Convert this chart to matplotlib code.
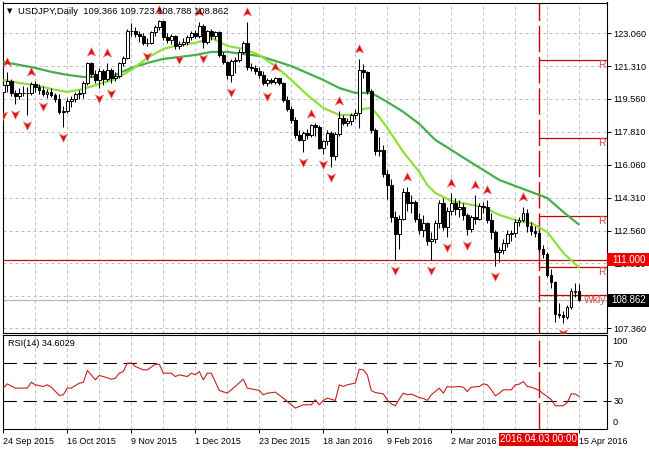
import matplotlib
matplotlib.use('Agg')
import matplotlib.pyplot as plt
import matplotlib.transforms as mtransforms
from matplotlib.patches import Rectangle
from matplotlib.path import Path

plt.rcParams['font.family'] = ['Liberation Sans', 'DejaVu Sans']
FS = 6.6

# ---------------- data ----------------
title_text = 'USDJPY,Daily  109.366 109.723 108.788 108.862'
rsi_title = 'RSI(14) 34.6029'

date_labels = ['24 Sep 2015', '16 Oct 2015', '9 Nov 2015', '1 Dec 2015', '23 Dec 2015',
               '18 Jan 2016', '9 Feb 2016', '2 Mar 2016', '15 Apr 2016']
date_label_bars = [0, 16, 32, 48, 64, 80, 96, 112, 144]
marker_date_text = '2016.04.03 00:00'
marker_bar = 134

price_ticks = [123.060, 121.310, 119.560, 117.810, 116.060, 114.310, 112.560, 110.810, 109.060, 107.360]

opens = [
    119.95, 120.30, 120.50, 119.85, 119.70, 119.85, 119.90, 119.85, 120.35, 120.20,
    120.05, 119.80, 119.95, 119.75, 119.55, 118.85, 118.90, 119.45, 119.55, 119.80,
    119.90, 120.40, 121.45, 120.90, 120.55, 121.05, 120.60, 121.10, 120.65, 120.80,
    121.45, 121.75, 123.20, 123.15, 123.00, 122.90, 122.55, 122.55, 123.10, 123.40,
    123.70, 122.85, 122.70, 122.90, 122.35, 122.50, 122.60, 122.85, 123.05, 122.90,
    123.45, 122.60, 123.15, 122.90, 123.10, 121.90, 121.50, 120.85, 121.60, 121.65,
    122.05, 122.55, 121.25, 121.20, 121.05, 120.85, 120.40, 120.55, 120.45, 120.65,
    120.40, 119.50, 119.00, 118.45, 117.65, 117.40, 117.75, 117.65, 118.15, 118.05,
    116.95, 117.30, 117.75, 116.50, 117.70, 118.55, 118.30, 118.40, 118.70, 118.80,
    121.10, 121.00, 120.00, 117.90, 116.80, 116.85, 115.55, 115.00, 113.30, 112.40,
    113.20, 114.60, 114.05, 114.10, 113.20, 112.60, 112.95, 112.00, 112.10, 112.95,
    114.00, 112.75, 113.60, 114.00, 113.70, 113.80, 113.40, 112.65, 113.30, 113.20,
    113.85, 113.80, 113.10, 112.50, 111.40, 111.50, 111.90, 112.40, 112.45, 113.00,
    113.10, 113.50, 112.80, 112.55, 112.45, 111.60, 111.30, 110.20, 109.80, 108.10,
    108.05, 107.95, 108.50, 109.30, 109.366]
highs = [
    120.45, 121.00, 120.60, 120.05, 120.15, 120.25, 120.20, 120.45, 120.50, 120.35,
    120.25, 120.10, 120.15, 119.90, 119.80, 119.20, 119.60, 119.70, 119.95, 120.05,
    120.50, 121.55, 121.50, 121.10, 121.20, 121.15, 121.45, 121.20, 121.00, 121.55,
    121.85, 123.30, 123.60, 123.40, 123.20, 123.05, 122.80, 123.20, 123.50, 123.76,
    123.72, 123.05, 123.00, 122.95, 122.65, 122.80, 122.95, 123.20, 123.25, 123.65,
    123.55, 123.25, 123.30, 123.20, 123.20, 122.05, 121.60, 121.70, 121.80, 122.20,
    122.65, 123.66, 121.45, 121.35, 121.25, 121.05, 120.65, 120.65, 120.75, 120.70,
    120.45, 119.70, 119.20, 118.60, 117.90, 117.85, 117.95, 118.25, 118.30, 118.20,
    117.35, 117.90, 117.85, 117.80, 118.90, 118.70, 118.55, 118.80, 119.00, 121.68,
    121.40, 121.05, 120.10, 118.00, 117.55, 117.10, 115.80, 115.30, 113.60, 113.40,
    114.80, 114.85, 114.45, 114.20, 113.50, 113.40, 113.00, 112.50, 113.10, 114.20,
    114.30, 113.80, 114.55, 114.30, 114.20, 114.00, 113.50, 113.40, 114.45, 114.00,
    114.10, 114.20, 113.50, 112.60, 111.70, 112.10, 112.60, 112.60, 113.15, 113.30,
    113.80, 113.70, 113.00, 112.80, 112.60, 111.80, 111.40, 110.50, 109.90, 108.70,
    108.30, 108.60, 109.50, 109.75, 109.723]
lows = [
    119.25, 119.95, 119.70, 119.30, 119.55, 119.70, 118.70, 119.75, 119.95, 119.80,
    119.70, 119.60, 119.65, 119.40, 118.75, 118.07, 118.80, 119.15, 119.40, 119.55,
    119.60, 120.30, 120.75, 120.40, 120.15, 120.30, 120.50, 120.40, 120.50, 120.70,
    121.30, 121.70, 122.90, 122.85, 122.60, 122.45, 122.40, 122.50, 122.90, 123.25,
    122.70, 122.55, 122.50, 122.20, 122.20, 122.35, 122.45, 122.70, 122.80, 122.80,
    122.25, 122.50, 122.70, 122.75, 121.80, 121.40, 120.60, 120.45, 120.95, 121.55,
    121.95, 121.10, 121.05, 120.90, 120.70, 120.30, 120.25, 120.35, 120.35, 120.30,
    119.40, 118.90, 118.30, 117.50, 117.30, 116.75, 117.45, 117.55, 117.60, 116.90,
    116.65, 117.10, 115.95, 116.30, 117.60, 118.20, 118.10, 118.20, 118.50, 118.00,
    120.70, 119.80, 117.75, 116.60, 116.50, 115.40, 114.25, 113.00, 110.99, 111.60,
    113.10, 113.60, 113.50, 113.00, 112.40, 112.20, 111.80, 111.00, 111.90, 112.70,
    112.60, 112.20, 113.40, 113.40, 113.30, 113.10, 112.30, 112.50, 112.90, 113.10,
    113.50, 112.95, 112.10, 110.67, 110.90, 111.30, 111.70, 112.00, 112.20, 112.80,
    113.00, 112.50, 112.30, 112.20, 111.40, 111.10, 110.10, 109.50, 107.67, 107.90,
    107.63, 107.85, 108.40, 109.00, 108.788]
closes = [
    120.30, 120.50, 119.85, 119.70, 119.85, 119.90, 119.85, 120.35, 120.20, 120.05,
    119.80, 119.95, 119.75, 119.55, 118.85, 118.90, 119.45, 119.55, 119.80, 119.90,
    120.40, 121.45, 120.90, 120.55, 121.05, 120.60, 121.10, 120.65, 120.80, 121.45,
    121.75, 123.20, 123.15, 123.00, 122.90, 122.55, 122.55, 123.10, 123.40, 123.70,
    122.85, 122.70, 122.90, 122.35, 122.50, 122.60, 122.85, 123.05, 122.90, 123.45,
    122.60, 123.15, 122.90, 123.10, 121.90, 121.50, 120.85, 121.60, 121.65, 122.05,
    122.55, 121.25, 121.20, 121.05, 120.85, 120.40, 120.55, 120.45, 120.65, 120.40,
    119.50, 119.00, 118.45, 117.65, 117.40, 117.75, 117.65, 118.15, 118.05, 116.95,
    117.30, 117.75, 116.50, 117.70, 118.55, 118.30, 118.40, 118.70, 118.80, 121.10,
    121.00, 120.00, 117.90, 116.80, 116.85, 115.55, 115.00, 113.30, 112.40, 113.20,
    114.60, 114.05, 114.10, 113.20, 112.60, 112.95, 112.00, 112.10, 112.95, 114.00,
    112.75, 113.60, 114.00, 113.70, 113.80, 113.40, 112.65, 113.30, 113.20, 113.85,
    113.80, 113.10, 112.50, 111.40, 111.50, 111.90, 112.40, 112.45, 113.00, 113.10,
    113.50, 112.80, 112.55, 112.45, 111.60, 111.30, 110.20, 109.80, 108.10, 108.05,
    107.95, 108.50, 109.35, 109.366, 108.862]

up_fractal_bars = [1, 7, 22, 26, 39, 49, 61, 68, 77, 84, 89, 101, 112, 118, 121, 130]
down_fractal_bars = [0, 3, 6, 10, 15, 24, 27, 36, 44, 50, 57, 66, 75, 80, 82, 98, 107, 111, 116, 123, 140]

fast_ma_bars = [0, 4, 8, 12, 16, 20, 24, 28, 32, 36, 40, 44, 48, 52, 56, 60, 64, 68, 72, 76, 80, 84, 88,
                90, 92, 94, 96, 98, 100, 102, 104, 106, 108,
                112, 116, 120, 124, 128, 132, 136, 140, 144]
fast_ma = [120.57, 120.41, 120.30, 120.09, 119.93, 120.09, 120.36, 120.62, 121.10, 121.74, 122.22, 122.43,
           122.54, 122.80, 122.38, 122.22, 121.90, 121.31, 120.57, 119.77, 119.08, 118.71, 118.71,
           119.03, 119.08, 118.60, 118.02, 117.38, 116.74, 116.21, 115.68, 114.98, 114.56,
           114.13, 113.97, 113.81, 113.39, 113.12, 112.96, 112.48, 111.37, 110.57]

slow_ma_bars = list(range(0, 145, 4))
slow_ma = [121.53, 121.37, 121.21, 121.00, 120.84, 120.73, 120.73, 120.84, 121.21, 121.47, 121.69, 121.79,
           121.90, 122.06, 122.06, 121.95, 121.85, 121.58, 121.31, 120.94, 120.57, 120.14, 119.88, 119.88,
           119.40, 118.87, 118.23, 117.38, 116.85, 116.31, 115.78, 115.25, 114.93, 114.61, 114.29, 113.55,
           112.86]

rsi_bars = [0, 1, 3, 4, 6, 7, 8, 10, 11, 12, 14, 15, 16, 17, 19, 20, 21, 22, 23, 24, 25, 27, 28, 29, 30,
            31, 32, 33, 35, 36, 38, 39, 40, 42, 43, 44, 46, 47, 48, 49, 50, 51, 52, 54, 56, 57, 60, 61,
            64, 65, 66, 68, 70, 72, 73, 75, 77, 78, 79, 80, 81, 83, 84, 85, 86, 88, 89, 90, 91, 92, 93,
            95, 96, 97, 98, 99, 100, 101, 102, 104, 105, 106, 107, 109, 110, 111, 112, 114, 115, 116,
            117, 119, 120, 121, 122, 123, 124, 125, 127, 128, 129, 130, 131, 132, 134, 135, 136, 137,
            138, 140, 141, 142, 143, 144]
rsi_vals = [43.5, 48.0, 43.5, 43.5, 43.5, 49.8, 47.0, 45.2, 47.0, 44.5, 35.7, 36.4, 43.5, 43.5, 48.8,
            49.5, 62.2, 57.6, 52.3, 56.9, 55.8, 53.0, 54.0, 59.4, 61.2, 70.0, 70.0, 66.5, 62.9, 62.9,
            68.9, 68.9, 59.4, 59.4, 55.8, 57.6, 55.8, 59.4, 57.6, 61.2, 52.3, 59.4, 59.4, 41.0, 38.1,
            41.7, 53.0, 43.5, 41.0, 36.4, 38.1, 39.2, 32.8, 25.8, 22.2, 25.8, 25.8, 31.1, 25.8, 30.4,
            32.8, 30.4, 47.0, 45.2, 47.0, 48.8, 63.6, 62.9, 57.6, 41.0, 38.8, 37.4, 31.1, 26.8, 24.7,
            31.8, 38.1, 36.4, 37.1, 33.5, 32.5, 30.4, 36.4, 43.5, 38.1, 45.2, 44.5, 45.2, 44.5, 39.9,
            44.5, 45.2, 48.1, 47.0, 41.7, 35.3, 38.1, 41.7, 41.7, 47.0, 47.7, 50.5, 45.2, 44.5, 41.0,
            37.4, 34.6, 31.1, 24.7, 24.7, 28.2, 37.4, 37.1, 34.6]
rsi_levels = [70, 30]

level_lines = [121.62, 117.47, 113.35, 110.64]   # "R" lines right of the marker
weekly_line = 109.15
round_level = 111.000
bid_price = 108.862

# ---------------- layout ----------------
W, H = 649, 450
fig = plt.figure(figsize=(W / 100, H / 100), dpi=100)
fig.patch.set_facecolor('white')


def fx(px):
    return px / W


def fy(py):
    return 1 - py / H


ax = fig.add_axes([fx(2.5), fy(333), (606.5 - 2.5) / W, (333 - 2.5) / H])
ax2 = fig.add_axes([fx(2.5), fy(429), (606.5 - 2.5) / W, (429 - 335) / H])

X_MIN, X_MAX = -0.2, 150.8
P_MIN, P_MAX = 107.11, 124.69

GRID = dict(color='#C0C0C0', lw=0.72, dashes=(3, 3), zorder=0)

for a in (ax, ax2):
    a.set_xlim(X_MIN, X_MAX)
    for s in a.spines.values():
        s.set_linewidth(0.8)
        s.set_color('black')
    for g in range(8, 145, 8):
        a.axvline(g, **GRID)

ax.set_ylim(P_MIN, P_MAX)
for p in price_ticks:
    ax.axhline(p, **GRID)

# price levels
ax.axhline(round_level, color='#B01818', lw=0.9, zorder=2)
ax.axhline(bid_price, color='#B8B8B8', lw=0.9, zorder=1)
ax.hlines(level_lines + [weekly_line], marker_bar, X_MAX, color='#C80000', lw=0.9, zorder=2)
for a in (ax, ax2):
    a.axvline(marker_bar, color='#C80000', lw=1.0, dashes=(19, 3.5), zorder=2)

# moving averages
ax.plot(slow_ma_bars, slow_ma, color='#45B04A', lw=1.6, zorder=5, solid_capstyle='butt')
ax.plot(fast_ma_bars, fast_ma, color='#8FE03A', lw=1.6, zorder=5, solid_capstyle='butt')

# candles
n = len(closes)
xs = list(range(n))
ax.vlines(xs, lows, highs, color='black', lw=0.75, zorder=6)
for i in range(n):
    o, c = opens[i], closes[i]
    bottom = min(o, c)
    h = max(abs(c - o), 0.005)
    fc = 'white' if c >= o else 'black'
    ax.add_patch(Rectangle((i - 0.3, bottom), 0.6, h, facecolor=fc, edgecolor='black',
                           lw=0.7, zorder=7))

# fractal arrows
up_path = Path([(0, 1), (0.85, -0.75), (0, -0.3), (-0.85, -0.75), (0, 1)],
               [Path.MOVETO, Path.LINETO, Path.LINETO, Path.LINETO, Path.CLOSEPOLY])
down_path = Path([(0, -1), (0.85, 0.75), (0, 0.3), (-0.85, 0.75), (0, -1)],
                 [Path.MOVETO, Path.LINETO, Path.LINETO, Path.LINETO, Path.CLOSEPOLY])
tr_up = mtransforms.offset_copy(ax.transData, fig=fig, x=0, y=10, units='dots')
tr_dn = mtransforms.offset_copy(ax.transData, fig=fig, x=0, y=-10, units='dots')
ax.plot(up_fractal_bars, [highs[i] for i in up_fractal_bars], linestyle='none', marker=up_path,
        markersize=7, color='#E01010', markeredgecolor='#F08080', markeredgewidth=0.4,
        transform=tr_up, zorder=8, clip_on=False)
ax.plot(down_fractal_bars, [lows[i] for i in down_fractal_bars], linestyle='none', marker=down_path,
        markersize=7, color='#E01010', markeredgecolor='#F08080', markeredgewidth=0.4,
        transform=tr_dn, zorder=8, clip_on=True)

# axis ticks
ax.set_xticks([])
ax.yaxis.tick_right()
ax.set_yticks(price_ticks)
ax.set_yticklabels(['%.3f' % p for p in price_ticks])
ax.tick_params(axis='y', direction='out', length=3, width=0.7, pad=2, labelsize=FS)

# R labels
for lv in level_lines:
    ax.text(X_MAX - 0.3, lv, 'R', ha='right', va='top', fontsize=FS + 0.8, color='#E04848', zorder=9)
ax.text(X_MAX - 0.1, weekly_line, 'Wkly', ha='right', va='top', fontsize=FS + 0.8, color='#E04848',
        zorder=9)

# right price boxes
ybl = mtransforms.blended_transform_factory(fig.transFigure, ax.transData)
box_h = 13 * (P_MAX - P_MIN) / 330.5
for val, col in ((round_level, '#F00000'), (bid_price, 'black')):
    fig.add_artist(Rectangle((fx(607), val - box_h / 2), fx(649) - fx(607), box_h, transform=ybl,
                             facecolor=col, edgecolor='none', clip_on=False, zorder=10))
    fig.text(fx(629), val, '%.3f' % val, transform=ybl, fontsize=FS + 0.3, color='white',
             ha='center', va='center', zorder=11)

# title
fig.text(fx(9.5), fy(11.5), '\u25BC', fontsize=5, ha='center', va='center',
         family=['DejaVu Sans'])
fig.text(fx(18), fy(11.5), title_text, fontsize=FS + 0.2, ha='left', va='center')

# RSI panel
ax2.set_ylim(0, 100)
ax2.plot(rsi_bars, rsi_vals, color='#C81E1E', lw=0.8, zorder=4)
for lv in rsi_levels:
    ax2.axhline(lv, color='black', lw=0.8, dashes=(12, 6), zorder=3)
ax2.yaxis.tick_right()
ax2.set_yticks([70, 30])
ax2.set_yticklabels(['70', '30'])
ax2.tick_params(axis='y', direction='out', length=3, width=0.7, pad=2, labelsize=FS)
ax2.text(1.0, 1.0, '100', transform=mtransforms.offset_copy(ax2.transAxes, fig=fig, x=6, y=-2, units='dots'),
         ha='left', va='top', fontsize=FS)
ax2.text(1.0, 0.0, '0', transform=mtransforms.offset_copy(ax2.transAxes, fig=fig, x=6, y=2, units='dots'),
         ha='left', va='bottom', fontsize=FS)
ax2.text(0.0, 1.0, rsi_title, transform=mtransforms.offset_copy(ax2.transAxes, fig=fig, x=5, y=-4, units='dots'),
         ha='left', va='top', fontsize=FS)

ax2.set_xticks(date_label_bars)
ax2.set_xticklabels(date_labels)
for lbl in ax2.get_xticklabels():
    lbl.set_ha('left')
ax2.tick_params(axis='x', direction='out', length=3, width=0.7, pad=2.5, labelsize=FS - 0.2)

# highlighted date box
fig.add_artist(Rectangle((fx(499), fy(445.5)), fx(578) - fx(499), (445.5 - 433) / H,
                         transform=fig.transFigure, facecolor='#E00000', edgecolor='none', zorder=10))
fig.text(fx(538.5), fy(439.3), marker_date_text, fontsize=FS + 0.5, color='white', ha='center',
         va='center', zorder=11)

fig.savefig('out.png', dpi=100)
